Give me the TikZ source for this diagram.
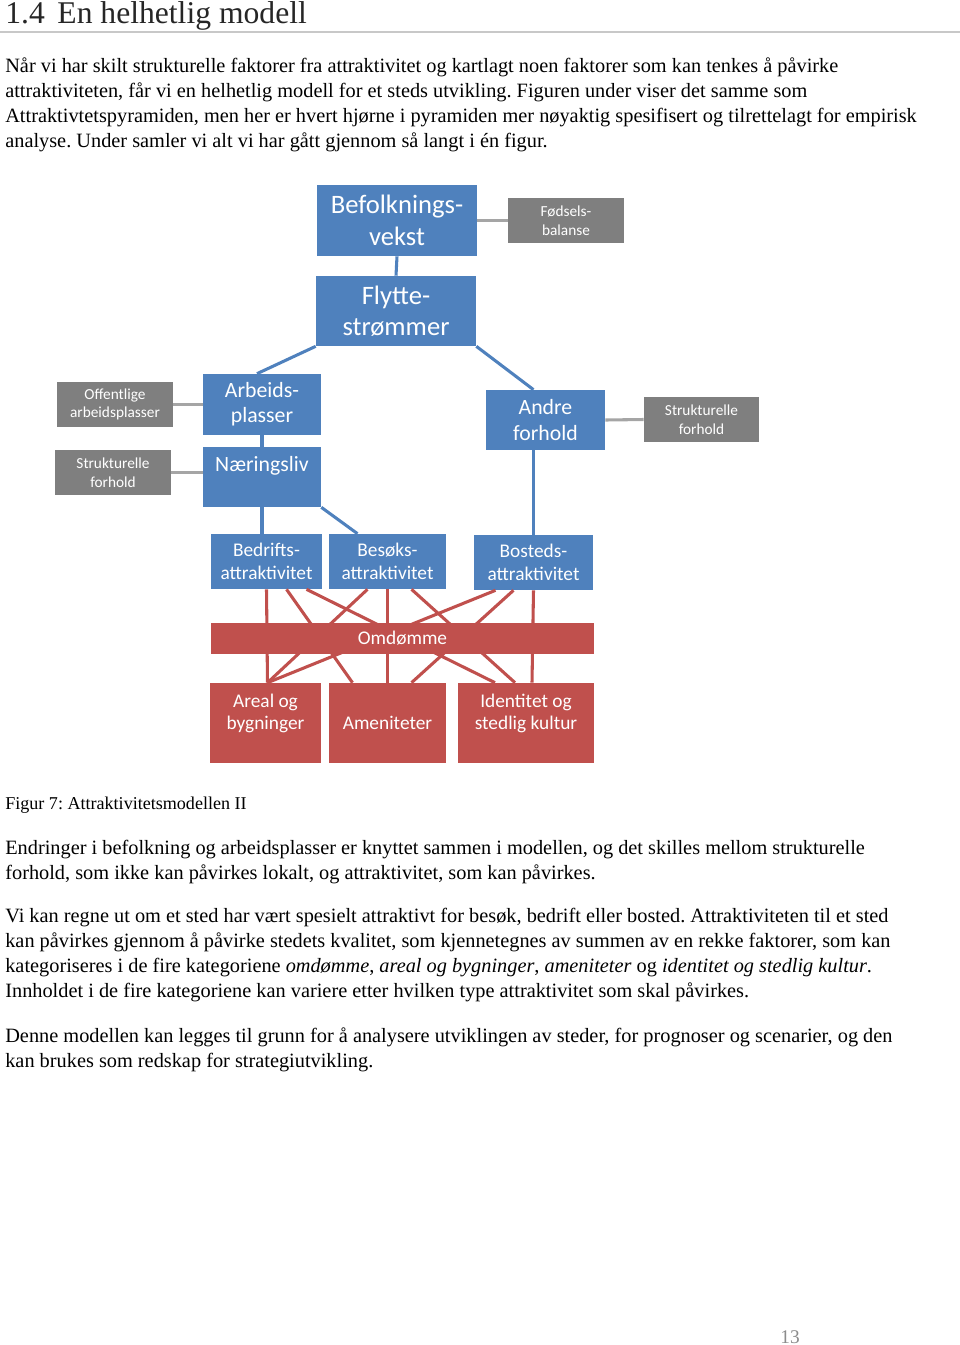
\documentclass[tikz,border=0pt]{standalone}
\usepackage{fontspec}
\setmainfont{Liberation Serif}
\newfontfamily\calibri{Carlito}
\usetikzlibrary{calc}
\definecolor{boxblue}{HTML}{4F81BD}
\definecolor{boxred}{HTML}{C0504D}
\definecolor{boxgray}{HTML}{7F7F7F}
\definecolor{linegray}{HTML}{A5A5A5}
\definecolor{rulegray}{HTML}{C8C8C8}
\frenchspacing

\begin{document}
\begin{tikzpicture}[x=0.62pt,y=-0.62pt,
    boxsize/.style 2 args={minimum width=#1*0.62pt,minimum height=#2*0.62pt},
    bluebox/.style={fill=boxblue,text=white,inner sep=0pt,align=center,font=\calibri\fontsize{13.5}{15.7}\selectfont},
    bigbox/.style={bluebox,font=\calibri\fontsize{16.5}{19.5}\selectfont},
    greybox/.style={fill=boxgray,text=white,inner sep=0pt,align=center,font=\calibri\fontsize{9.5}{11.5}\selectfont},
    redbox/.style={fill=boxred,text=white,inner sep=0pt,align=center,font=\calibri\fontsize{12}{14}\selectfont},
    attrbox/.style={bluebox,font=\calibri\fontsize{12}{14.5}\selectfont},
    blueline/.style={boxblue,line width=1.9pt},
    greyline/.style={linegray,line width=1.9pt},
    redline/.style={boxred,line width=1.9pt},
    bodytext/.style={anchor=base west,inner sep=0pt,font=\fontsize{12.6}{15}\selectfont}]
\useasboundingbox (0,0) rectangle (960,1345);

% overskrift
\node[anchor=base west,inner sep=0pt,text=black!85,font=\fontsize{19.6}{22}\selectfont] (tittel) at (5,23) {1.4\hspace{0.4em}En helhetlig modell};
\draw[rulegray,line width=1.2pt] (0,32) -- (960,32);

\node[bodytext] (a1) at (5,72) {Når vi har skilt strukturelle faktorer fra attraktivitet og kartlagt noen faktorer som kan tenkes å påvirke};
\node[bodytext] (a2) at (5,97) {attraktiviteten, får vi en helhetlig modell for et steds utvikling. Figuren under viser det samme som};
\node[bodytext] (a3) at (5,122) {Attraktivtetspyramiden, men her er hvert hjørne i pyramiden mer nøyaktig spesifisert og tilrettelagt for empirisk};
\node[bodytext] (a4) at (5,147) {analyse. Under samler vi alt vi har gått gjennom så langt i én figur.};

% befolkning
\node[bigbox,boxsize={160}{71}] (befolk) at (397,220.5) {Befolknings-\\vekst};
\node[greybox,boxsize={116}{45}] (fodsel) at (566,220.5) {Fødsels-\\balanse};
\node[bigbox,boxsize={160}{70}] (flytte) at (396,311) {Flytte-\\strømmer};

% arbeid og andre forhold
\node[greybox,boxsize={116}{45}] (offentlig) at (115,404.5) {Offentlige\\arbeidsplasser};
\node[bluebox,boxsize={118}{61}] (arbeid) at (262,404.5) {Arbeids-\\plasser};
\node[greybox,boxsize={116}{45}] (strukv) at (113,472.5) {Strukturelle\\forhold};
\node[bluebox,boxsize={118}{60}] (naering) at (262,477) {Næringsliv\\\mbox{}};
\node[bluebox,boxsize={119}{60}] (andre) at (545.5,420) {Andre\\forhold};
\node[greybox,boxsize={115}{45}] (strukh) at (701.5,419.5) {Strukturelle\\forhold};

% attraktivitet
\node[attrbox,boxsize={111}{55}] (bedrift) at (266.5,561.5) {Bedrifts-\\attraktivitet};
\node[attrbox,boxsize={117}{55}] (besok) at (387.5,561.5) {Besøks-\\attraktivitet};
\node[attrbox,boxsize={119}{55}] (bosted) at (533.5,562.5) {Bosteds-\\attraktivitet};

% faktorer
\node[redbox,boxsize={111}{80}] (areal) at (265.5,723) {Areal og\\bygninger\\\mbox{}};
\node[redbox,boxsize={117}{80}] (amenitet) at (387.5,723) {Ameniteter};
\node[redbox,boxsize={136}{80}] (identitet) at (526,723) {Identitet og\\stedlig kultur\\\mbox{}};

\draw[greyline] (befolk.east) -- (fodsel.west);
\draw[blueline] (befolk.south) -- (flytte.north);
\draw[blueline] (flytte.south west) -- ($(arbeid.north)+(-5,0)$);
\draw[blueline] (flytte.south east) -- (andre.north -| bosted.north);
\draw[greyline] (offentlig.east) -- (arbeid.west);
\draw[blueline] (arbeid.south) -- (naering.north);
\draw[greyline] (strukv.east) -- (strukv.east -| naering.west);
\draw[greyline] (andre.east) -- (strukh.west);
\draw[blueline] (naering.south) -- (naering.south |- bedrift.north);
\draw[blueline] (naering.south east) -- ($(besok.north)+(-30,0)$);
\draw[blueline] (andre.south -| bosted.north) -- (bosted.north);

\foreach \a/\da/\b/\db in {bedrift/0/areal/2, bedrift/20/amenitet/-35, bedrift/40/identitet/-31,
    besok/-20/areal/2, besok/0/amenitet/0, besok/24/identitet/-11,
    bosted/-38/areal/2, bosted/-20/amenitet/24, bosted/0/identitet/6}
  \draw[redline] ($(\a.south)+(\da,0)$) -- ($(\b.north)+(\db,0)$);

\node[redbox,boxsize={383}{31}] (omdomme) at (402.5,638.5) {Omdømme};

\node[anchor=base west,inner sep=0pt,font=\fontsize{11.2}{13}\selectfont] (figtekst) at (5,809) {Figur 7: Attraktivitetsmodellen II};

\node[bodytext] (b1) at (5,854) {Endringer i befolkning og arbeidsplasser er knyttet sammen i modellen, og det skilles mellom strukturelle};
\node[bodytext] (b2) at (5,879) {forhold, som ikke kan påvirkes lokalt, og attraktivitet, som kan påvirkes.};

\node[bodytext] (c1) at (5,922) {Vi kan regne ut om et sted har vært spesielt attraktivt for besøk, bedrift eller bosted. Attraktiviteten til et sted};
\node[bodytext] (c2) at (5,947) {kan påvirkes gjennom å påvirke stedets kvalitet, som kjennetegnes av summen av en rekke faktorer, som kan};
\node[bodytext] (c3) at (5,972) {kategoriseres i de fire kategoriene \emph{omdømme}, \emph{areal og bygninger}, \emph{ameniteter} og \emph{identitet og stedlig kultur}.};
\node[bodytext] (c4) at (5,997) {Innholdet i de fire kategoriene kan variere etter hvilken type attraktivitet som skal påvirkes.};

\node[bodytext] (d1) at (5,1042) {Denne modellen kan legges til grunn for å analysere utviklingen av steder, for prognoser og scenarier, og den};
\node[bodytext] (d2) at (5,1067) {kan brukes som redskap for strategiutvikling.};

\node[inner sep=0pt,text=black!45,font=\fontsize{12}{14}\selectfont] (sidetall) at (790,1337) {13};
\end{tikzpicture}
\end{document}
